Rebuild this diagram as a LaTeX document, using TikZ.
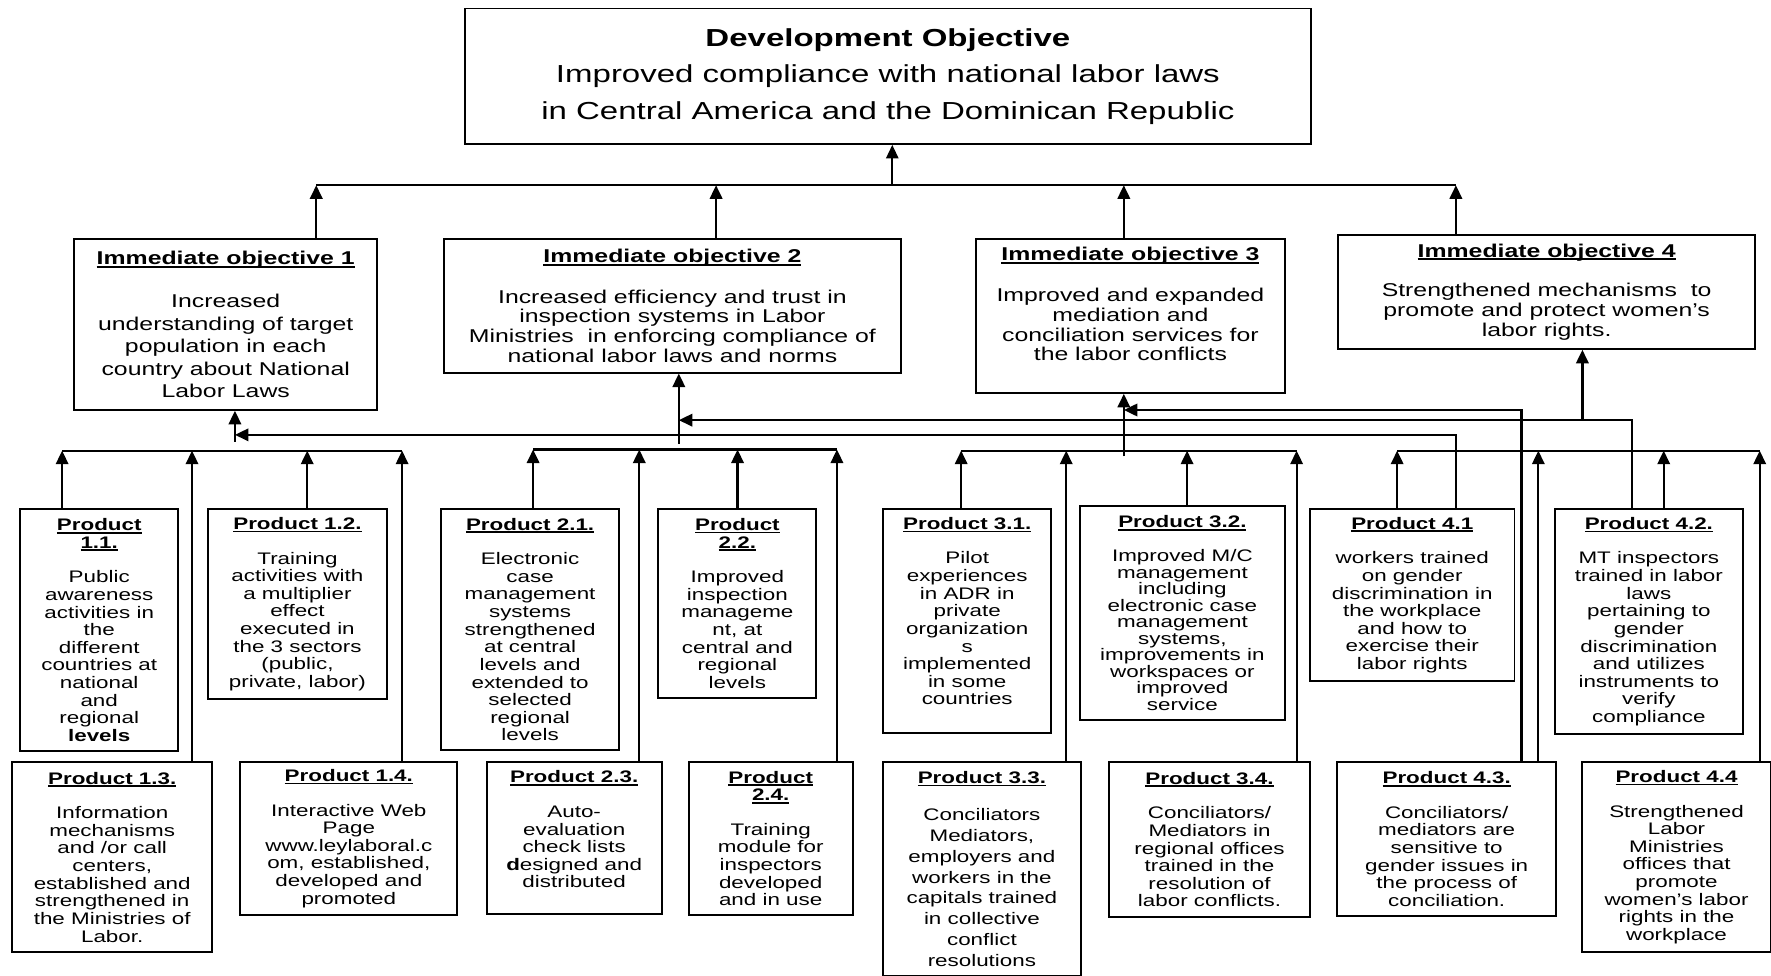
\documentclass[tikz,border=0pt]{standalone}
\usepackage{fontspec}
\setmainfont{Liberation Sans}[FakeStretch=1.34]
\usetikzlibrary{arrows.meta}

% bold heading with a firm underline
\newcommand{\hd}[1]{\textbf{\setbox0\hbox{#1}\rlap{\rule[-0.17em]{\wd0}{0.1em}}\box0}}

\tikzset{
  box/.style={draw,line width=1.7pt,inner sep=0pt,anchor=north west,align=center},
  prod/.style={box,font=\fontsize{14.8}{15.6}\selectfont},
  obj/.style={box,font=\fontsize{16.4}{17.5}\selectfont},
  link/.style={line width=2pt},
  up/.style={link,-{Triangle[length=12pt,width=11pt]}}
}

\begin{document}
\begin{tikzpicture}[x=1pt,y=-1pt]
  \useasboundingbox (0,0) rectangle (1568,864);

  % development objective
  \node[box,line width=1.3pt,minimum width=749pt,minimum height=120pt,
        font=\fontsize{21.8}{32.5}\selectfont] (dev) at (411,7)
    {\textbf{Development Objective}\\Improved compliance with national labor laws\\in Central America and the Dominican Republic};

  % immediate objectives
  \node[obj,minimum width=268pt,minimum height=151pt,font=\fontsize{16.4}{20}\selectfont] (o1) at (65,211)
    {\hd{Immediate objective 1}\\[18pt]Increased\\understanding of target\\population in each\\country about National\\Labor Laws};
  \node[obj,minimum width=405pt,minimum height=118pt] (o2) at (392,211)
    {\hd{Immediate objective 2}\\[18.5pt]Increased efficiency and trust in\\inspection systems in Labor\\Ministries \ in enforcing compliance of\\national labor laws and norms};
  \node[obj,minimum width=274pt,minimum height=136pt] (o3) at (863,211)
    {\hd{Immediate objective 3}\\[18.5pt]Improved and expanded\\mediation and\\conciliation services for\\the labor conflicts\\[3.5pt]\mbox{}};
  \node[obj,minimum width=369pt,minimum height=101pt] (o4) at (1184,207)
    {\hd{Immediate objective 4}\\[17.5pt]Strengthened mechanisms \ to\\promote and protect women’s\\labor rights.};

  % products, upper row
  \node[prod,minimum width=140pt,minimum height=214pt] (p11) at (17,450)
    {\hd{Product}\\\hd{1.1.}\\[15pt]Public\\awareness\\activities in\\the\\different\\countries at\\national\\and\\regional\\\textbf{levels}};
  \node[prod,minimum width=159pt,minimum height=168pt] (p12) at (183,450)
    {\hd{Product 1.2.}\\[15pt]Training\\activities with\\a multiplier\\effect\\executed in\\the 3 sectors\\(public,\\private, labor)};
  \node[prod,minimum width=157pt,minimum height=213pt] (p21) at (390,450)
    {\hd{Product 2.1.}\\[15pt]Electronic\\case\\management\\systems\\strengthened\\at central\\levels and\\extended to\\selected\\regional\\levels};
  \node[prod,minimum width=140pt,minimum height=167pt] (p22) at (582,450)
    {\hd{Product}\\\hd{2.2.}\\[15pt]Improved\\inspection\\manageme\\nt, at\\central and\\regional\\levels};
  \node[prod,minimum width=149pt,minimum height=198pt] (p31) at (781,450)
    {\hd{Product 3.1.}\\[15pt]Pilot\\experiences\\in ADR in\\private\\organization\\s\\implemented\\in some\\countries\\[2pt]\mbox{}};
  \node[prod,minimum width=182pt,minimum height=190pt,font=\fontsize{14.8}{14.6}\selectfont] (p32) at (955,447)
    {\hd{Product 3.2.}\\[15.4pt]Improved M/C\\management\\including\\electronic case\\management\\systems,\\improvements in\\workspaces or\\improved\\service};
  \node[prod,minimum width=181pt,minimum height=152pt] (p41) at (1159,450)
    {\hd{Product 4.1}\\[15pt]workers trained\\on gender\\discrimination in\\the workplace\\and how to\\exercise their\\labor rights};
  \node[prod,minimum width=166pt,minimum height=199pt] (p42) at (1376,450)
    {\hd{Product 4.2.}\\[15pt]MT inspectors\\trained in labor\\laws\\pertaining to\\gender\\discrimination\\and utilizes\\instruments to\\verify\\compliance};

  % products, lower row
  \node[prod,minimum width=177pt,minimum height=168pt] (p13) at (10,674)
    {\hd{Product 1.3.}\\[15pt]Information\\mechanisms\\and /or call\\centers,\\established and\\strengthened in\\the Ministries of\\Labor.};
  \node[prod,minimum width=192pt,minimum height=135pt] (p14) at (212,674)
    {\hd{Product 1.4.}\\[15pt]Interactive Web\\Page\\www.leylaboral.c\\om, established,\\developed and\\promoted};
  \node[prod,minimum width=155pt,minimum height=134pt] (p23) at (430,674)
    {\hd{Product 2.3.}\\[15pt]Auto-\\evaluation\\check lists\\\textbf{d}esigned and\\distributed\\[-0.5pt]\mbox{}};
  \node[prod,minimum width=145pt,minimum height=135pt] (p24) at (609,674)
    {\hd{Product}\\\hd{2.4.}\\[15pt]Training\\module for\\inspectors\\developed\\and in use};
  \node[prod,minimum width=175pt,minimum height=189pt,font=\fontsize{14.8}{18.4}\selectfont] (p33) at (781,674)
    {\hd{Product 3.3.}\\[14.6pt]Conciliators\\Mediators,\\employers and\\workers in the\\capitals trained\\in collective\\conflict\\resolutions};
  \node[prod,minimum width=178pt,minimum height=137pt] (p34) at (981,674)
    {\hd{Product 3.4.}\\[15pt]Conciliators/\\Mediators in\\regional offices\\trained in the\\resolution of\\labor conflicts.};
  \node[prod,minimum width=194pt,minimum height=136pt] (p43) at (1183,674)
    {\hd{Product 4.3.}\\[15pt]Conciliators/\\mediators are\\sensitive to\\gender issues in\\the process of\\conciliation.};
  \node[prod,minimum width=167pt,minimum height=168pt] (p44) at (1400,674)
    {\hd{Product 4.4}\\[15pt]Strengthened\\Labor\\Ministries\\offices that\\promote\\women’s labor\\rights in the\\workplace};

  % bar under the development objective
  \coordinate (k1) at (280,164);
  \coordinate (k2) at (634,164);
  \coordinate (kd) at (790,164);
  \coordinate (k3) at (995,164);
  \coordinate (k4) at (1289,164);
  \draw[link] (k1) -- (k4);
  \draw[up,line width=1.4pt] (kd) -- (kd |- dev.south);
  \draw[up] (o1.north -| k1) -- (k1);
  \draw[up] (o2.north -| k2) -- (k2);
  \draw[up] (o3.north -| k3) -- (k3);
  \draw[up] (o4.north -| k4) -- (k4);

  % taps on the product bars
  \coordinate (t11) at (55,399);
  \coordinate (t13) at (170,399);
  \coordinate (t12) at (272,399);
  \coordinate (t14) at (356,399);
  \coordinate (t21) at (472,398);
  \coordinate (t23) at (566,398);
  \coordinate (t22) at (653,398);
  \coordinate (t24) at (741,398);
  \coordinate (t31) at (851,399);
  \coordinate (t33) at (944,399);
  \coordinate (t32) at (1051,399);
  \coordinate (t34) at (1148,399);
  \coordinate (t41) at (1237,399);
  \coordinate (t43) at (1362,399);
  \coordinate (t42) at (1473,399);
  \coordinate (t44) at (1558,399);
  \draw[link] (t11) -- (t14);
  \draw[link] (t21) -- (t24);
  \draw[link] (t31) -- (t34);
  \draw[link] (t41) -- (t44);
  \foreach \p in {11,12,13,14,21,22,23,24,31,32,33,34,41,42,43,44}
    \draw[up] (p\p.north -| t\p) -- (t\p);

  % from the bars up to the objectives
  \coordinate (m1) at (208,391);
  \coordinate (m2) at (601,393);
  \coordinate (m3) at (995,404);
  \draw[up] (m1) -- (m1 |- o1.south);
  \draw[up] (m2) -- (m2 |- o2.south);
  \draw[up] (m3) -- (m3 |- o3.south);

  % gender products feeding back to the other objectives
  \coordinate (f1) at (1289,385);
  \coordinate (f2) at (1445,372);
  \coordinate (f3) at (1347,363);
  \coordinate (f4) at (1401,372);
  \draw[up] (p41.north -| f1) -- (f1) -- (f1 -| m1);
  \draw[up] (p42.north -| f2) -- (f2) -- (f2 -| m2);
  \draw[up] (p43.north -| f3) -- (f3) -- (f3 -| m3);
  \draw[up] (f4) -- (f4 |- o4.south);
\end{tikzpicture}
\end{document}
